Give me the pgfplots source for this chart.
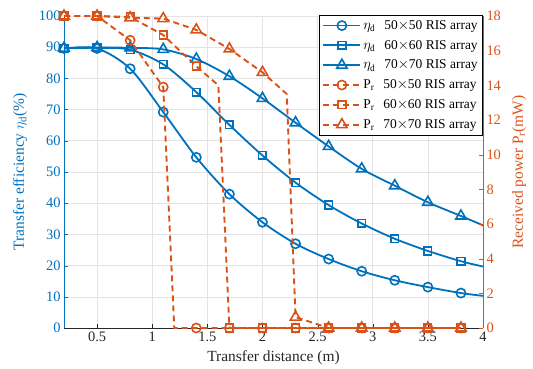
\documentclass[border=0pt]{standalone}
\usepackage{fontspec}
\setmainfont{Liberation Serif}
\usepackage{pgfplots}
\pgfplotsset{compat=1.18}
\definecolor{mblue}{HTML}{0072BD}
\definecolor{morange}{HTML}{D95319}
\definecolor{gridc}{RGB}{228,228,228}
\definecolor{axc}{RGB}{38,38,38}
\begin{document}
\begin{tikzpicture}
\pgfplotsset{
  every axis/.append style={
    scale only axis, width=419bp, height=312bp,
    xmin=0.2, xmax=4, clip=false,
    tick align=inside,
    /pgf/number format/assume math mode=true,
    tick label style={font=\fontsize{14.5}{16}\selectfont},
    label style={font=\fontsize{15.5}{18}\selectfont},
    major tick length=4bp,
  },
  bl/.style={color=mblue, line width=1.8bp, mark options={solid, line width=1.6bp}},
  orr/.style={color=morange, line width=1.9bp, dash pattern=on 6bp off 4bp, mark options={solid, line width=1.6bp}},
  mc/.style={mark=o, mark size=4.6bp},
  ms/.style={mark=square, mark size=3.8bp},
  mt/.style={mark=triangle, mark size=6bp},
}
\begin{axis}[
  axis x line*=bottom, axis y line*=left,
  ymin=0, ymax=100,
  xtick={0.5,1,1.5,2,2.5,3,3.5,4},
  ytick={0,10,...,100},
  xmajorgrids, ymajorgrids, grid style={gridc, line width=0.6bp},
  x axis line style={axc, -, line width=0.6bp}, y axis line style={mblue, -, line width=0.6bp},
  x tick style={axc}, y tick style={mblue},
  x tick label style={axc}, y tick label style={mblue},
  xlabel={Transfer distance (m)},
  ylabel={Transfer efficiency $\eta_\mathrm{d}$(\%)},
  xlabel style={axc, at={(axis description cs:0.5,-0.095)}, anchor=center},
  ylabel style={mblue, at={(axis description cs:-0.105,0.5)}, anchor=center, rotate=0},
]
\addplot[bl, mc, smooth, mark indices={1,...,13}] coordinates {
(0.2,89.6) (0.5,89.6) (0.8,83.1) (1.1,69.2) (1.4,54.7) (1.7,42.9) (2.0,33.9)
(2.3,27.0) (2.6,22.1) (2.9,18.2) (3.2,15.3) (3.5,13.1) (3.8,11.2) (4.0,10.3)};
\addplot[bl, ms, smooth, mark indices={1,...,13}] coordinates {
(0.2,89.6) (0.5,89.8) (0.8,89.2) (1.1,84.5) (1.4,75.6) (1.7,65.1) (2.0,55.3)
(2.3,46.6) (2.6,39.4) (2.9,33.5) (3.2,28.6) (3.5,24.7) (3.8,21.4) (4.0,19.7)};
\addplot[bl, mt, smooth, mark indices={1,...,13}] coordinates {
(0.2,89.7) (0.5,89.9) (0.8,89.8) (1.1,89.3) (1.4,86.2) (1.7,80.7) (2.0,73.6)
(2.3,65.8) (2.6,58.2) (2.9,51.0) (3.2,45.6) (3.5,40.3) (3.8,35.9) (4.0,32.9)};
\end{axis}
\begin{axis}[
  axis y line*=right, axis x line=none,
  ymin=0, ymax=18, ytick={0,2,...,18},
  y axis line style={morange, -, line width=0.6bp}, y tick style={morange},
  y tick label style={morange},
  ylabel={Received power $\mathrm{P_r}$(mW)},
  ylabel style={morange, at={(axis description cs:1.086,0.5)}, anchor=center, rotate=0},
  legend style={at={(1,1.003)}, anchor=north east, draw=black, line width=0.6bp, fill=white,
    font=\fontsize{13.5}{15}\selectfont, cells={anchor=west}, row sep=5.4bp, inner sep=3bp},
  legend image code/.code={\draw[mark indices={2}] plot coordinates {(0cm,0cm) (0.65cm,0cm) (1.3cm,0cm)};},
]
\addlegendimage{bl, mc}
\addlegendentry{$\eta_\mathrm{d}$\hspace{9pt}50$\times$50 RIS array}
\addlegendimage{bl, ms}
\addlegendentry{$\eta_\mathrm{d}$\hspace{9pt}60$\times$60 RIS array}
\addlegendimage{bl, mt}
\addlegendentry{$\eta_\mathrm{d}$\hspace{9pt}70$\times$70 RIS array}
\addplot[orr, mc, mark indices={1,2,3,4,6,7,8,9,10,11,12,13,14}] coordinates {
(0.2,18) (0.5,18) (0.8,16.6) (1.1,13.9) (1.2,0) (1.4,0) (1.7,0) (2.0,0)
(2.3,0) (2.6,0) (2.9,0) (3.2,0) (3.5,0) (3.8,0)};
\addlegendentry{$\mathrm{P_r}$\hspace{9pt}50$\times$50 RIS array}
\addplot[orr, ms, mark indices={1,2,3,4,5,7,8,9,10,11,12,13,14}] coordinates {
(0.2,18) (0.5,18) (0.8,17.95) (1.1,16.9) (1.4,15.1) (1.6,14.0) (1.7,0) (2.0,0)
(2.3,0) (2.6,0) (2.9,0) (3.2,0) (3.5,0) (3.8,0)};
\addlegendentry{$\mathrm{P_r}$\hspace{9pt}60$\times$60 RIS array}
\addplot[orr, mt, mark indices={1,2,3,4,5,6,7,9,10,11,12,13,14}] coordinates {
(0.2,18) (0.5,18) (0.8,17.9) (1.1,17.85) (1.4,17.2) (1.7,16.1) (2.0,14.75) (2.22,13.5)
(2.3,0.63) (2.6,0) (2.9,0) (3.2,0) (3.5,0) (3.8,0)};
\addlegendentry{$\mathrm{P_r}$\hspace{9pt}70$\times$70 RIS array}
\end{axis}
\pgfresetboundingbox
\path (-64bp,-41bp) rectangle (469bp,328bp);
\end{tikzpicture}
\end{document}
